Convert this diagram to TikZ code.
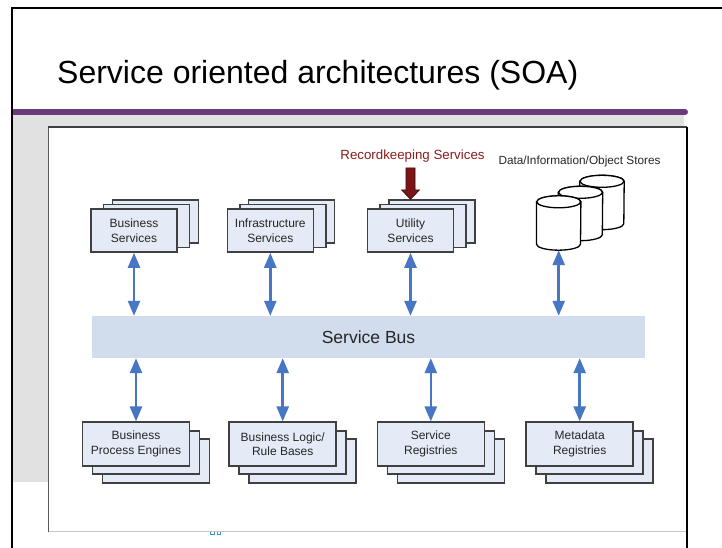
\documentclass[tikz,border=0pt]{standalone}
\usepackage{fontspec}
\setmainfont{Liberation Sans}
\usetikzlibrary{arrows.meta,calc}

\definecolor{slidepurple}{HTML}{6A3A7D}
\definecolor{slidegray}{HTML}{E1E1E1}
\definecolor{boxfill}{HTML}{E5EBF6}
\definecolor{boxline}{HTML}{404040}
\definecolor{boxtext}{HTML}{262626}
\definecolor{busfill}{HTML}{D1DCEC}
\definecolor{linkblue}{HTML}{4776C4}
\definecolor{rkred}{HTML}{7B1518}
\definecolor{rkline}{HTML}{3A0505}
\definecolor{rktext}{HTML}{8B1C1C}

% draws a cylinder filling the node given as argument
\newcommand\drawdrum[1]{%
  \path[drum] ([yshift=-6pt]#1.north west) -- ([yshift=6pt]#1.south west)
    arc[start angle=180, end angle=360, x radius=22pt, y radius=6pt]
    -- ([yshift=-6pt]#1.north east)
    arc[start angle=0, end angle=180, x radius=22pt, y radius=6pt] -- cycle;
  \path[drum] ([yshift=-6pt]#1.north) ellipse[x radius=22pt, y radius=6pt];
}

\begin{document}
\begin{tikzpicture}[x=1pt,y=1pt,
  box/.style={draw=boxline, fill=boxfill, line width=1.6pt,
    minimum width=86pt, minimum height=43pt, inner sep=0pt,
    font=\fontsize{12}{14.5}\selectfont, text=boxtext, align=center},
  wbox/.style={box, minimum width=107pt, minimum height=43.5pt},
  drumbox/.style={inner sep=0pt, minimum width=44pt, minimum height=54pt},
  drum/.style={draw=black, fill=white, line width=1.3pt},
  link/.style={draw=linkblue, line width=2.5pt,
    {Triangle[width=12pt,length=15pt]}-{Triangle[width=12pt,length=15pt]}},
  bus/.style={fill=busfill, minimum width=553pt, minimum height=42pt,
    inner sep=0pt, font=\fontsize{17.5}{20}\selectfont, text=boxtext},
]
\useasboundingbox (0,0) rectangle (722,548);
\fill[white] (0,0) rectangle (722,548);

% slide background and title
\fill[slidegray] (12,66) rectangle (684,433);
\fill[slidepurple] (12,433) rectangle (685,439);
\fill[slidepurple] (685,436) circle[radius=3];
\node[anchor=base west, inner sep=0pt, font=\fontsize{32}{36}\selectfont]
  (title) at (57,464.5) {Service oriented architectures (SOA)};

% embedded diagram frame
\fill[white] (48,16) rectangle (687,421);
\draw[gray!45, line width=1pt] (48,16) -- (687,16);
\draw[black!65, line width=1pt] (48,16) -- (48,421);
\draw[black!75, line width=1.2pt] (48,421) -- (687,421);
\draw[black, line width=1.3pt] (687,421) -- (687,0);

% service bus
\node[bus] (bus) at (368.5,211) {Service Bus};

% top row of services
\node[box] (bs3) at (155.3,326.5) {};
\node[box] (bs2) at (146.5,322) {};
\node[box] (bs) at (134,317.5) {Business\\Services};

\node[box] (is3) at (291.6,326.5) {};
\node[box] (is2) at (282.8,322) {};
\node[box] (is) at (270.3,317.5) {Infrastructure\\Services};

\node[box] (us3) at (431.8,326.5) {};
\node[box] (us2) at (423,322) {};
\node[box] (us) at (410.5,317.5) {Utility\\Services};

% data stores
\node[drumbox] (db3) at (602,345.5) {};
\node[drumbox] (db2) at (580.5,334.5) {};
\node[drumbox] (db) at (558.7,325) {};
\drawdrum{db3}
\drawdrum{db2}
\drawdrum{db}
\node[anchor=base, inner sep=0pt, font=\fontsize{11.8}{14}\selectfont, text=boxtext]
  (dblabel) at (579.5,383) {Data/Information/Object Stores};

% recordkeeping services feeding the utility services
\node[anchor=base, inner sep=0pt, font=\fontsize{13.3}{16}\selectfont, text=rktext]
  (rk) at (412.5,388) {Recordkeeping Services};
\coordinate (rtip) at (us.north |- us3.north);
\filldraw[fill=rkred, draw=rkline, line width=0.7pt]
  ($(rtip)+(-4.5,31.3)$) -- ($(rtip)+(4.5,31.3)$) -- ($(rtip)+(4.5,9.3)$)
  -- ($(rtip)+(9,9.3)$) -- (rtip) -- ($(rtip)+(-9,9.3)$)
  -- ($(rtip)+(-4.5,9.3)$) -- cycle;

% bottom row of components
\node[wbox] (bpe3) at (156,87) {};
\node[wbox] (bpe2) at (146,95.5) {};
\node[wbox] (bpe) at (136,104) {Business\\Process Engines};

\node[wbox] (br3) at (302.7,87) {};
\node[wbox] (br2) at (292.7,95.5) {};
\node[wbox] (br) at (282.7,104) {Business Logic/\\Rule Bases};

\node[wbox] (sr3) at (450.8,87) {};
\node[wbox] (sr2) at (440.8,95.5) {};
\node[wbox] (sr) at (430.8,104) {Service\\Registries};

\node[wbox] (mr3) at (599.7,87) {};
\node[wbox] (mr2) at (589.7,95.5) {};
\node[wbox] (mr) at (579.7,104) {Metadata\\Registries};

% links to the bus
\draw[link] (bs.south) -- (bs.south |- bus.north);
\draw[link] (is.south) -- (is.south |- bus.north);
\draw[link] (us.south) -- (us.south |- bus.north);
\draw[link] (db.south) -- (db.south |- bus.north);
\draw[link] (bus.south -| bpe.north) -- (bpe.north);
\draw[link] (bus.south -| br.north) -- (br.north);
\draw[link] (bus.south -| sr.north) -- (sr.north);
\draw[link] (bus.south -| mr.north) -- (mr.north);

% clipped footer marks
\draw[linkblue!80!cyan, line width=0.8pt] (210,15.5) -- (210,14) -- (214,14) -- (214,15.5)
  (217,15.5) -- (217,14) -- (220,14) -- (220,15.5);

% slide border
\draw[black, line width=2pt] (12,0) -- (12,540) -- (722,540);
\end{tikzpicture}
\end{document}
